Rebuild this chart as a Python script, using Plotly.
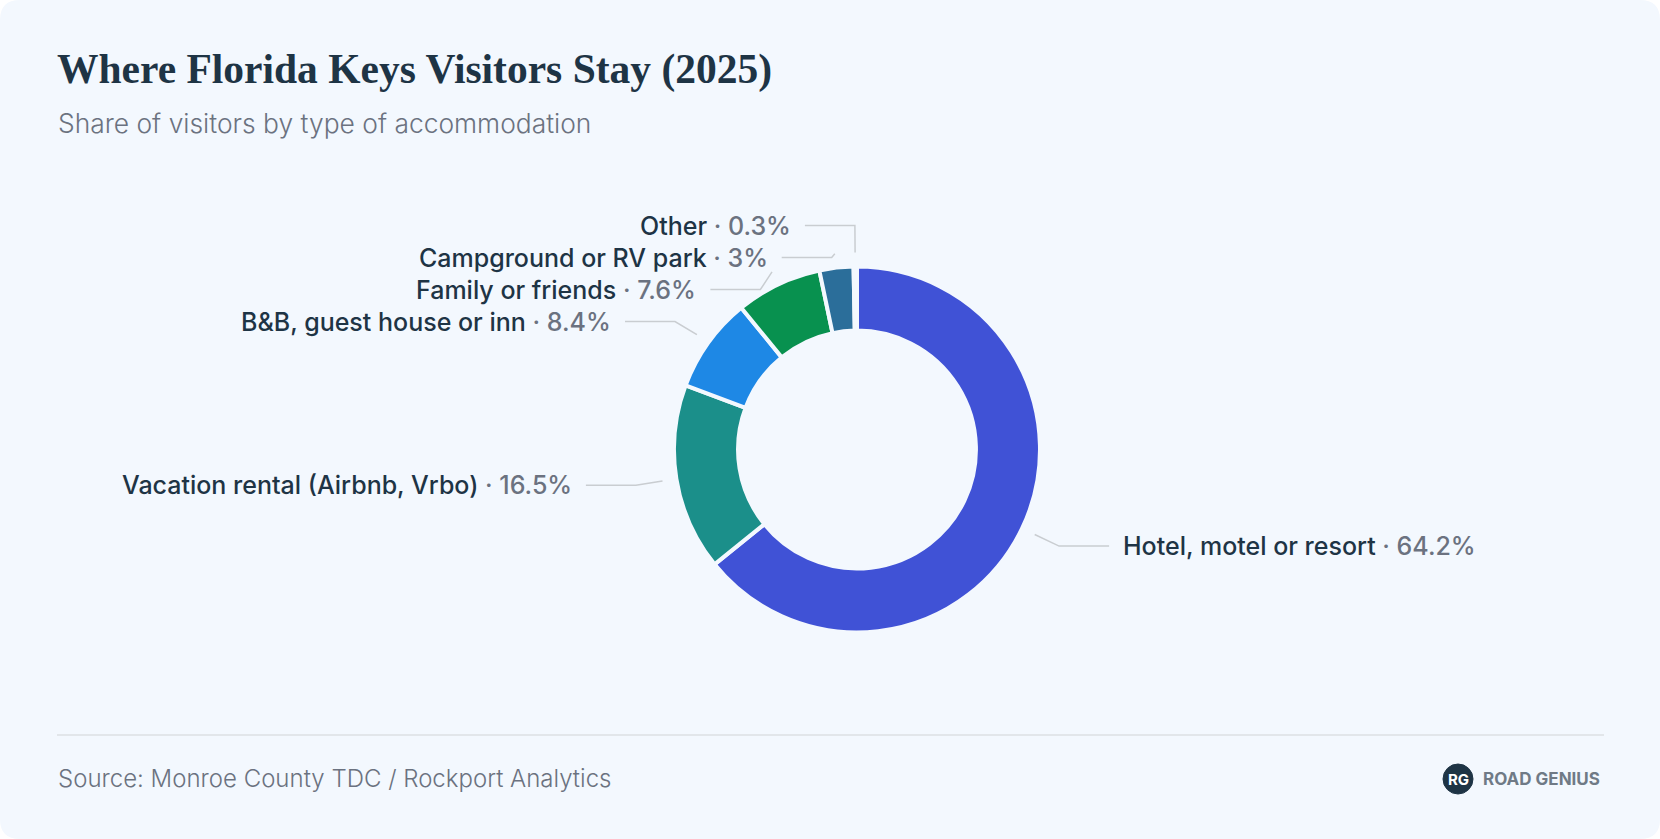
import math
import plotly.graph_objects as go

# ---------------- data ----------------
categories = [
    "Hotel, motel or resort",
    "Vacation rental (Airbnb, Vrbo)",
    "B&B, guest house or inn",
    "Family or friends",
    "Campground or RV park",
    "Other",
]
shares = [64.2, 16.5, 8.4, 7.6, 3.0, 0.3]
share_labels = ["64.2%", "16.5%", "8.4%", "7.6%", "3%", "0.3%"]
slice_colors = ["#4052D6", "#1B8F8A", "#1E88E5", "#08914F", "#2B6E9A", "#8A98A8"]

title_text = "Where Florida Keys Visitors Stay (2025)"
subtitle_text = "Share of visitors by type of accommodation"
source_text = "Source: Monroe County TDC / Rockport Analytics"
brand_text = "ROAD GENIUS"

# ---------------- layout constants ----------------
W, H = 1660, 839
CX, CY, R = 857, 449.5, 183
HOLE = 0.65
CARD = "#F3F8FE"
NAME_C = "#1E3445"
VAL_C = "#6B7280"
LINE_C = "#C9CDD1"
SANS = "Inter, 'Open Sans', sans-serif"

fig = go.Figure()

fig.add_trace(go.Pie(
    labels=categories,
    values=shares,
    sort=False,
    direction="clockwise",
    rotation=0,
    hole=HOLE,
    marker=dict(colors=slice_colors, line=dict(color=CARD, width=4)),
    textinfo="none",
    hoverinfo="label+percent",
    showlegend=False,
    domain=dict(x=[(CX - R) / W, (CX + R) / W],
                y=[(H - CY - R) / H, (H - CY + R) / H]),
))

# ---------------- leader lines + labels ----------------
total = sum(shares)
r_start, r_elbow, len2, gap, spacing = R + 14, R + 41, 50, 12, 32
items = []
cum = 0.0
for name, v, lab in zip(categories, shares, share_labels):
    mid = (cum + v / 2) / total
    cum += v
    th = 2 * math.pi * mid
    dx, dy = math.sin(th), -math.cos(th)
    items.append(dict(
        name=name, lab=lab,
        sx=CX + r_start * dx, sy=CY + r_start * dy,
        ex=CX + r_elbow * dx, ey=CY + r_elbow * dy,
        side=1 if dx >= 0 else -1,
    ))

for side in (1, -1):
    grp = sorted([it for it in items if it["side"] == side], key=lambda it: it["ey"])
    prev = None
    for it in grp:
        if prev is not None and it["ey"] < prev + spacing:
            it["ey"] = prev + spacing
        prev = it["ey"]

shapes = []
annotations = []
for it in items:
    s = it["side"]
    hx = it["ex"] + s * len2
    shapes.append(dict(
        type="path", xref="x", yref="y", layer="above",
        path=f"M {it['sx']:.1f},{it['sy']:.1f} L {it['ex']:.1f},{it['ey']:.1f} L {hx:.1f},{it['ey']:.1f}",
        line=dict(color=LINE_C, width=1.5),
    ))
    annotations.append(dict(
        x=hx + s * gap, y=it["ey"], xref="x", yref="y",
        xanchor="left" if s > 0 else "right", yanchor="middle",
        showarrow=False,
        text=f"<span style='color:{NAME_C}'>{it['name']}</span>"
             f"<span style='color:{VAL_C}'> · {it['lab']}</span>",
        font=dict(family=SANS, size=25, color=NAME_C, weight=500),
    ))

# ---------------- card, texts, footer ----------------
rc = 20
card_path = (f"M {rc},0 L {W-rc},0 Q {W},0 {W},{rc} L {W},{H-rc} Q {W},{H} {W-rc},{H} "
             f"L {rc},{H} Q 0,{H} 0,{H-rc} L 0,{rc} Q 0,0 {rc},0 Z")
shapes.insert(0, dict(type="path", xref="x", yref="y", layer="below", path=card_path,
                      fillcolor=CARD, line=dict(width=0)))
shapes.append(dict(type="line", xref="x", yref="y", layer="below",
                   x0=57, x1=1604, y0=735, y1=735, line=dict(color="#DDE1E3", width=1.5)))
shapes.append(dict(type="circle", xref="x", yref="y", layer="above",
                   x0=1443, x1=1473, y0=764, y1=794,
                   fillcolor="#1E3445", line=dict(color="#1E3445", width=1)))

annotations += [
    dict(x=55, y=69, xref="x", yref="y", xanchor="left", yanchor="middle", showarrow=False,
         text=title_text,
         font=dict(family="'Liberation Serif', serif", size=41.5, color="#1E3445", weight=700)),
    dict(x=56, y=123, xref="x", yref="y", xanchor="left", yanchor="middle", showarrow=False,
         text=subtitle_text, font=dict(family=SANS, size=26.4, color=VAL_C, weight=300)),
    dict(x=56, y=778, xref="x", yref="y", xanchor="left", yanchor="middle", showarrow=False,
         text=source_text, font=dict(family=SANS, size=24, color=VAL_C, weight=300)),
    dict(x=1458, y=779, xref="x", yref="y", xanchor="center", yanchor="middle", showarrow=False,
         text="RG", font=dict(family=SANS, size=15, color="#FFFFFF", weight=700)),
    dict(x=1481, y=779, xref="x", yref="y", xanchor="left", yanchor="middle", showarrow=False,
         text=brand_text, font=dict(family=SANS, size=17, color="#6F7A86", weight=700)),
]

fig.update_layout(
    width=W, height=H,
    margin=dict(l=0, r=0, t=0, b=0),
    paper_bgcolor="#FFFFFF",
    plot_bgcolor="rgba(0,0,0,0)",
    xaxis=dict(range=[0, W], visible=False, domain=[0, 1], fixedrange=True),
    yaxis=dict(range=[H, 0], visible=False, domain=[0, 1], fixedrange=True),
    shapes=shapes,
    annotations=annotations,
    showlegend=False,
)

fig.write_html("out.html", config={"displayModeBar": False})
